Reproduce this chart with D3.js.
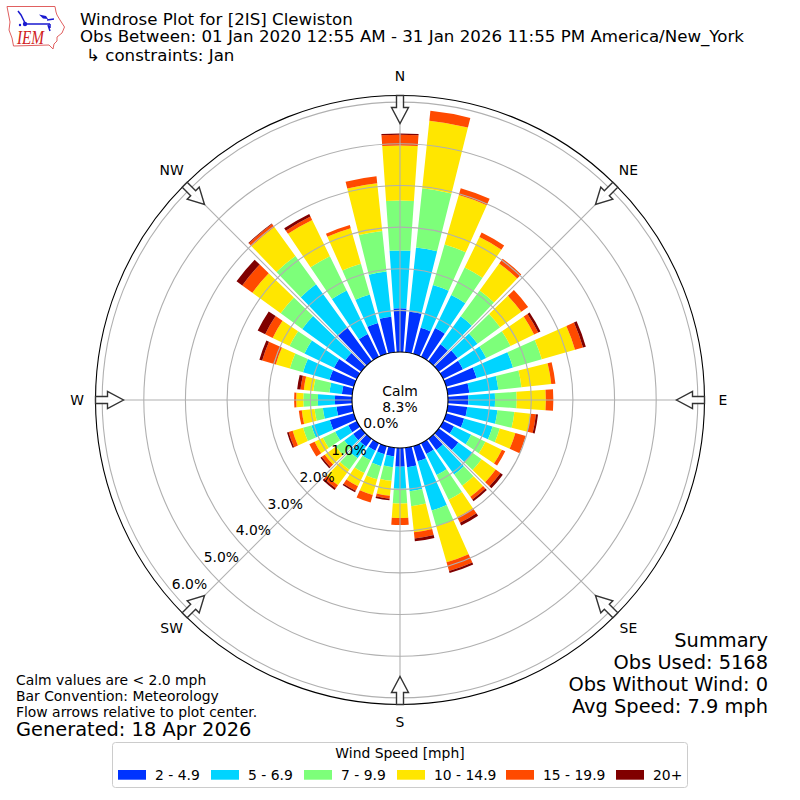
<!DOCTYPE html>
<html>
<head>
<meta charset="utf-8">
<script src="https://cdn.jsdelivr.net/npm/d3@7"></script>
<style>
  html, body { margin: 0; padding: 0; background: #fff; }
  text { font-family: "DejaVu Sans", sans-serif; fill: #000; }
</style>
</head>
<body>
<div id="chart"></div>
<script>
// direction of each bar in degrees, clockwise from north
var directions = [0,10,20,30,40,50,60,70,80,90,100,110,120,130,140,150,160,170,
                  180,190,200,210,220,230,240,250,260,270,280,290,300,310,320,330,340,350];

// percent of observations per speed bin, one value per direction
var speed2 = [1.05,.98,.65,.77,.50,.56,.53,.76,.52,.49,.47,.45,.29,.58,.33,.29,.38,.47,
              .45,.21,.20,.20,.23,.24,.23,.60,.38,.41,.25,.61,.61,.47,1.0,.61,.77,.86];
var speed5 = [1.39,1.55,1.07,.88,.83,.59,.62,.91,.70,.64,.73,.71,.46,.42,.73,.56,1.23,.58,
              .53,.26,.30,.26,.35,.26,.35,.46,.33,.41,.30,.66,.79,1.28,1.28,1.16,.71,1.09];
var speed7 = [1.20,1.43,1.01,.74,.77,.67,.65,.72,.56,.52,.41,.18,.38,.27,.33,.66,.39,.36,
              .35,.33,.33,.34,.34,.25,.33,.21,.20,.35,.39,.33,.40,.64,.84,.92,.77,.98];
var speed10 = [1.32,1.63,1.24,.81,.80,.63,.63,.83,.72,.70,.39,.39,.44,.42,.33,.47,.90,.63,
               .35,.36,.39,.35,.46,.33,.22,.26,.31,.17,.23,.35,.45,.84,.86,.97,.89,1.15];
var speed15 = [.26,.24,.17,.12,.14,.20,.11,.20,.10,.18,.13,.26,.09,.14,.08,.15,.22,.15,
               .17,.07,.19,.12,.09,.09,.14,.10,.07,.05,.08,.34,.20,.30,.09,.09,.08,.17];
var speed20 = [.03,0,0,0,0,0,.06,.07,0,0,.05,0,0,.07,.05,.07,.05,.07,
               0,.04,0,.04,.05,.04,0,.04,0,0,.08,.07,.20,.17,.02,.07,0,0];

var speedLabels = ["2 - 4.9","5 - 6.9","7 - 9.9","10 - 14.9","15 - 19.9","20+"];
var speedColors = ["#0033ff","#00d4ff","#7dff7a","#ffe600","#ff4a00","#800000"];
var speedSeries = [speed2, speed5, speed7, speed10, speed15, speed20];

var percentTicks = [0,1,2,3,4,5,6];
var compass = [[0,"N"],[45,"NE"],[90,"E"],[135,"SE"],[180,"S"],[225,"SW"],[270,"W"],[315,"NW"]];

var titleLines = ["Windrose Plot for [2IS] Clewiston",
                  "Obs Between: 01 Jan 2020 12:55 AM - 31 Jan 2026 11:55 PM America/New_York",
                  "\u21B3 constraints: Jan"];
var summaryLines = ["Summary","Obs Used: 5168","Obs Without Wind: 0","Avg Speed: 7.9 mph"];
var noteLines = ["Calm values are < 2.0 mph","Bar Convention: Meteorology","Flow arrows relative to plot center."];

var svgWidth = 800, svgHeight = 800;
var cx = 400, cy = 400;
var barWidth = 8; // degrees

var svg = d3.select("#chart").append("svg")
  .attr("width", svgWidth)
  .attr("height", svgHeight)
  .style("display", "block");

var rScale = d3.scaleLinear().domain([0, 6.16]).range([48, 304.5]);
var rad = d => d * Math.PI / 180;

// table for the stack, keyed by speed bin
var table = directions.map(function(dir, i) {
  var row = {dir: dir};
  speedLabels.forEach(function(s, j) { row[s] = speedSeries[j][i]; });
  return row;
});
var stacked = d3.stack().keys(speedLabels)(table);

var plot = svg.append("g").attr("transform", `translate(${cx}, ${cy})`);

var arc = d3.arc()
  .innerRadius(d => rScale(d[0]))
  .outerRadius(d => rScale(d[1]))
  .startAngle(d => rad(d.data.dir - barWidth / 2))
  .endAngle(d => rad(d.data.dir + barWidth / 2));

plot.selectAll("g.speed")
  .data(stacked)
  .enter().append("g")
    .attr("class", "speed")
    .attr("fill", (d, i) => speedColors[i])
  .selectAll("path")
  .data(d => d.filter(v => v[1] > v[0]))
  .enter().append("path")
    .attr("d", arc);

// grid goes over the bars
var gridColor = "#b0b0b0";
plot.selectAll("circle.ring")
  .data(percentTicks.slice(1))
  .enter().append("circle")
    .attr("class", "ring")
    .attr("r", d => rScale(d))
    .attr("fill", "none")
    .attr("stroke", gridColor)
    .attr("stroke-width", 1.1);

plot.selectAll("line.spoke")
  .data(compass)
  .enter().append("line")
    .attr("class", "spoke")
    .attr("x1", d => rScale(0) * Math.sin(rad(d[0])))
    .attr("y1", d => -rScale(0) * Math.cos(rad(d[0])))
    .attr("x2", d => rScale.range()[1] * Math.sin(rad(d[0])))
    .attr("y2", d => -rScale.range()[1] * Math.cos(rad(d[0])))
    .attr("stroke", gridColor)
    .attr("stroke-width", 1.1);

// spines
plot.append("circle").attr("r", rScale.range()[1]).attr("fill", "none").attr("stroke", "#000").attr("stroke-width", 1.1);
plot.append("circle").attr("r", rScale(0)).attr("fill", "#fff").attr("stroke", "#000").attr("stroke-width", 1.1);

// flow arrows on the rim
var R = rScale.range()[1];
var arrowShape = `M-3.5,${-R} L3.5,${-R} L3.5,${-R + 12} L8.5,${-R + 12} L0,${-R + 28} L-8.5,${-R + 12} L-3.5,${-R + 12} Z`;
plot.selectAll("path.arrow")
  .data(compass)
  .enter().append("path")
    .attr("class", "arrow")
    .attr("d", arrowShape)
    .attr("transform", d => `rotate(${d[0]})`)
    .attr("fill", "#fff")
    .attr("fill-opacity", 0.9)
    .attr("stroke", "#333")
    .attr("stroke-width", 1.4);

// compass labels, the top ones sit a little higher
plot.selectAll("text.compass")
  .data(compass)
  .enter().append("text")
    .attr("class", "compass")
    .attr("x", d => (R + 18.5) * Math.sin(rad(d[0])))
    .attr("y", d => -(R + 18.5) * Math.cos(rad(d[0])) - (d[0] == 45 || d[0] == 315 ? 2 : (d[0] == 0 || d[0] == 180 ? 1 : 0)))
    .attr("text-anchor", "middle")
    .attr("dominant-baseline", "central")
    .attr("font-size", 13.9)
    .text(d => d[1]);

// percent labels along the 230 degree ray
plot.selectAll("text.rlabel")
  .data(percentTicks)
  .enter().append("text")
    .attr("class", "rlabel")
    .attr("x", d => rScale(d) * Math.sin(rad(230)))
    .attr("y", d => -rScale(d) * Math.cos(rad(230)) - 2.5)
    .attr("font-size", 13.9)
    .text(d => d.toFixed(1) + "%");

plot.append("text").attr("y", -4).attr("text-anchor", "middle").attr("font-size", 13.9).text("Calm");
plot.append("text").attr("y", 12).attr("text-anchor", "middle").attr("font-size", 13.9).text("8.3%");

// title block
var titleY = [25, 41.7, 61];
svg.selectAll("text.title")
  .data(titleLines)
  .enter().append("text")
    .attr("class", "title")
    .attr("x", (d, i) => i == 2 ? 86 : 80)
    .attr("y", (d, i) => titleY[i])
    .attr("font-size", 16.67)
    .text(d => d);

// summary, bottom right
svg.selectAll("text.summary")
  .data(summaryLines)
  .enter().append("text")
    .attr("class", "summary")
    .attr("x", 768)
    .attr("y", (d, i) => 646.5 + i * 22.3)
    .attr("text-anchor", "end")
    .attr("font-size", 19.4)
    .text(d => d);

// notes, bottom left
svg.selectAll("text.note")
  .data(noteLines)
  .enter().append("text")
    .attr("class", "note")
    .attr("x", 16)
    .attr("y", (d, i) => 685 + i * 16)
    .attr("font-size", 13.9)
    .text(d => d);

svg.append("text").attr("x", 16).attr("y", 736).attr("font-size", 19.4).text("Generated: 18 Apr 2026");

// legend
var legend = svg.append("g");
legend.append("rect")
  .attr("x", 112.5).attr("y", 742.5).attr("width", 575).attr("height", 45).attr("rx", 3)
  .attr("fill", "#fff").attr("stroke", "#ccc").attr("stroke-width", 1);
legend.append("text")
  .attr("x", 400).attr("y", 758).attr("text-anchor", "middle").attr("font-size", 13.9)
  .text("Wind Speed [mph]");

var legendX = [118, 211, 304, 397, 506, 616];
var legendItems = legend.selectAll("g.item")
  .data(speedLabels)
  .enter().append("g")
    .attr("class", "item")
    .attr("transform", (d, i) => `translate(${legendX[i]}, 770)`);
legendItems.append("rect")
  .attr("width", 28).attr("height", 9.7)
  .attr("fill", (d, i) => speedColors[i]);
legendItems.append("text")
  .attr("x", 37).attr("y", 10).attr("font-size", 13.9)
  .text(d => d);

// IEM logo
var logo = svg.append("g");
logo.append("path")
  .attr("d", "M7,6.5 L55,6.5 L56,12 L57,15 L60,20 L64.5,27 L62,33 L57,37 L57,41 L54,44 L53,49 L49,45 L13.5,46 L12,38 L9,30 L10,22 Z")
  .attr("fill", "#fff").attr("stroke", "#e06060").attr("stroke-width", 1);
logo.append("path")
  .attr("d", "M25,24 L50,24 M50,24 L50,28 M18,11 L21,15 L25,23 M47,20 L54,19 M48,25 L50,31")
  .attr("fill", "none").attr("stroke", "#1a1ad0").attr("stroke-width", 1.5);
logo.append("circle").attr("cx", 25).attr("cy", 24).attr("r", 2.2).attr("fill", "#1a1ad0");
logo.append("path").attr("d", "M39,14.5 L46,16 L48,19 L43,18.5 Z").attr("fill", "#1a1ad0");
logo.append("circle").attr("cx", 20).attr("cy", 25).attr("r", 1.2).attr("fill", "#1a1ad0");
logo.append("text")
  .attr("x", 17).attr("y", 44).attr("font-size", 19)
  .attr("textLength", 27).attr("lengthAdjust", "spacingAndGlyphs")
  .style("font-family", '"Liberation Serif", serif').style("font-style", "italic").style("fill", "#d02020")
  .text("IEM");
</script>
</body>
</html>
